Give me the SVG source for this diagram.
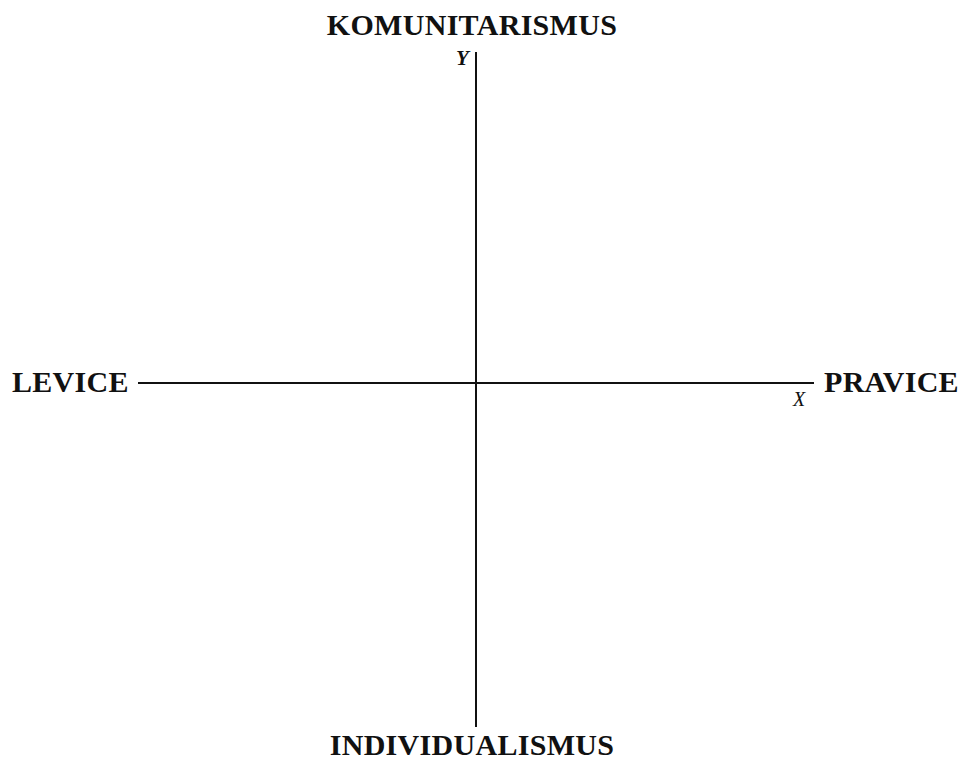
<svg xmlns="http://www.w3.org/2000/svg" width="959" height="760" viewBox="0 0 959 760">
<style>
.lbl{font-family:"Liberation Serif","Times New Roman",serif;font-weight:bold;font-size:30px;fill:#111;letter-spacing:0.3px}
.ax{font-family:"Liberation Serif","Times New Roman",serif;font-style:italic;fill:#111}
.axis{stroke:#111;stroke-width:2;fill:none}
</style>
<rect width="959" height="760" fill="#fff"/>
<g id="connectors">
<line class="axis" x1="138" y1="383" x2="814" y2="383"/>
<line class="axis" x1="476" y1="52" x2="476" y2="727"/>
</g>
<g id="komunitarismus"><text class="lbl" x="472" y="35" text-anchor="middle">KOMUNITARISMUS</text></g>
<g id="individualismus"><text class="lbl" x="472" y="755" text-anchor="middle">INDIVIDUALISMUS</text></g>
<g id="levice"><text class="lbl" x="12" y="392">LEVICE</text></g>
<g id="pravice"><text class="lbl" x="824" y="392">PRAVICE</text></g>
<g id="y-label"><text class="ax" x="456" y="65" font-size="21" font-weight="bold">Y</text></g>
<g id="x-label"><text class="ax" x="793" y="406" font-size="20">X</text></g>
</svg>
